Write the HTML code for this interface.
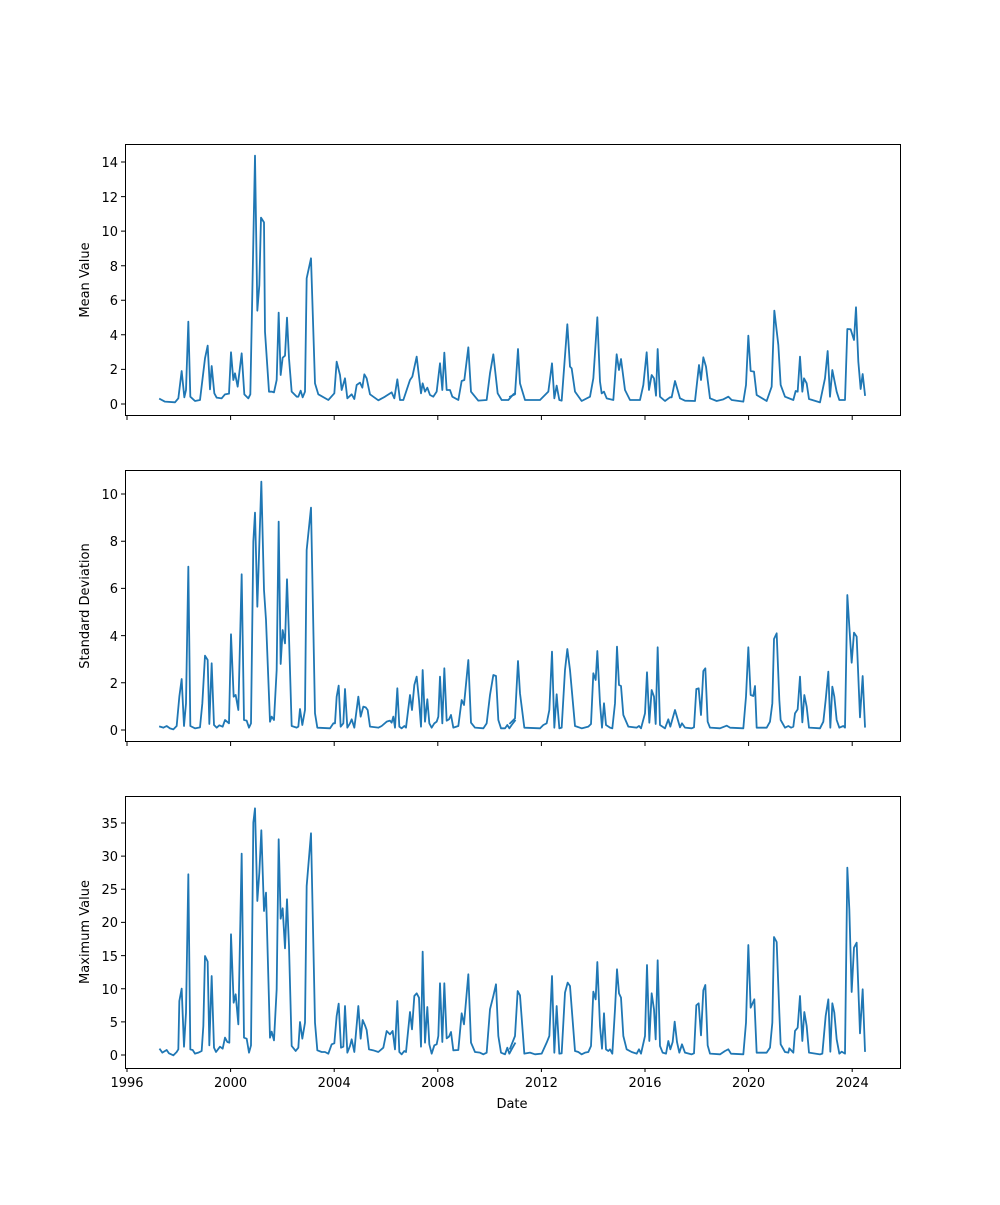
<!DOCTYPE html>
<html><head><meta charset="utf-8"><style>
body{margin:0;background:#fff;}
svg text{font-family:"DejaVu Sans","Liberation Sans",sans-serif;font-size:13px;fill:#000;}
</style></head><body>
<svg width="1000" height="1200" xmlns="http://www.w3.org/2000/svg">
<rect width="1000" height="1200" fill="#fff"/>
<g fill="none" stroke="#1f77b4" stroke-width="5.4" stroke-linejoin="round" stroke-linecap="square">
<g transform="translate(125,145) scale(0.33333)">
<polyline points="105,762 120,770 150,772 160,760 170,678 178,757 183,735 190,530 196,755 210,768 225,765 240,640 248,602 255,733 260,663 268,745 275,758 290,760 300,748 312,746 318,622 325,705 330,685 338,725 350,625 358,748 370,760 376,748 390,32 397,497 403,420 408,218 417,232 420,560 432,740 440,740 447,742 455,705 461,503 467,690 473,638 480,632 486,518 492,640 500,740 515,755 520,755 527,737 533,757 540,740 545,400 558,340 570,715 580,748 610,765 628,745 635,650 645,690 650,735 660,700 667,760 680,748 688,762 695,720 705,713 712,728 718,688 725,700 735,748 760,766 780,755 800,742 808,760 817,703 825,765 835,765 855,705 862,695 875,635 888,745 893,715 900,740 907,728 915,750 925,755 935,740 945,655 952,735 958,623 965,735 975,735 982,755 1000,765 1010,708 1018,705 1030,607 1038,740 1060,767 1085,765 1095,685 1105,628 1118,745 1130,765 1150,765 1165,748 1170,745"/>
</g>
<g transform="translate(510,145) scale(0.33333)">
<polyline points="0,755 15,748 24,612 30,715 45,765 90,765 115,740 126,655 133,760 140,722 148,765 155,767 172,538 180,665 185,670 195,740 215,768 240,755 250,700 262,517 270,710 275,745 282,740 290,760 310,765 320,628 327,675 333,642 345,735 360,765 390,765 400,720 410,622 417,735 425,690 432,700 438,752 443,612 450,755 465,768 480,757 485,757 495,708 510,760 525,767 555,768 567,660 573,705 580,637 588,665 600,760 620,768 640,763 655,755 665,765 700,770 708,720 715,572 722,678 732,680 740,750 770,768 785,725 793,497 805,600 812,720 825,755 850,765 857,738 863,740 870,635 877,740 882,700 890,715 897,762 930,772 945,700 953,618 960,755 967,675 980,740 988,765 1005,765 1012,552 1022,553 1032,585 1038,487 1045,650 1052,732 1058,687 1065,750"/>
</g>
<g transform="translate(125,470) scale(0.33333)">
<polyline points="105,770 115,773 125,768 135,775 145,778 155,768 163,680 170,627 177,768 183,700 190,290 196,768 210,775 225,772 232,700 240,557 248,570 253,762 260,580 267,765 275,773 283,766 293,770 300,750 312,760 318,493 326,680 332,675 340,720 350,313 357,750 365,752 372,773 378,760 385,215 390,128 397,410 409,35 417,360 423,450 435,755 440,740 447,750 455,600 461,155 467,582 473,480 480,520 486,328 492,500 500,768 515,773 520,770 525,717 532,765 540,720 545,240 558,113 570,730 577,773 615,775 625,760 630,760 635,680 641,647 647,770 655,760 660,657 667,773 675,760 680,748 688,773 700,680 707,740 715,710 722,712 728,720 735,770 760,773 770,768 785,755 795,752 800,758 805,740 810,773 817,655 823,770 830,775 838,768 843,773 855,675 861,720 868,645 875,620 882,690 888,770 893,600 900,755 907,688 913,760 920,773 928,760 935,755 940,740 945,620 952,760 958,595 965,752 972,748 978,735 985,773 1000,768 1010,690 1017,705 1030,570 1038,758 1050,773 1075,775 1085,760 1095,675 1105,615 1113,618 1120,750 1128,775 1140,775 1147,765 1153,775 1160,765 1170,752"/>
</g>
<g transform="translate(510,470) scale(0.33333)">
<polyline points="0,760 15,745 24,573 30,670 43,773 90,775 100,765 110,760 118,720 126,545 133,773 140,673 148,775 155,773 165,600 172,537 180,600 195,768 215,775 235,770 243,762 250,610 257,630 262,543 270,700 276,773 282,700 288,765 300,773 307,775 315,700 321,530 327,645 333,648 340,735 355,770 380,773 387,768 393,775 405,730 411,607 418,758 425,660 432,680 437,762 443,532 450,765 465,775 475,748 481,770 495,720 510,772 516,760 525,773 545,775 552,772 559,657 566,655 573,735 580,603 586,595 593,755 600,773 630,775 650,767 660,773 700,775 708,680 715,532 722,675 730,678 735,648 740,773 770,773 780,755 787,700 792,507 800,490 808,690 812,750 825,773 835,768 843,773 850,770 855,730 863,718 870,620 877,757 883,675 890,710 897,773 930,775 940,755 947,690 955,605 961,773 967,650 973,680 980,750 988,773 1000,768 1005,773 1012,375 1018,470 1025,578 1032,488 1040,500 1050,742 1058,618 1065,770"/>
</g>
<g transform="translate(125,796) scale(0.33333)">
<polyline points="105,760 112,770 120,765 125,762 132,772 145,778 155,768 160,760 163,615 170,578 177,752 183,650 190,235 196,760 203,762 210,773 220,770 230,765 235,690 240,480 248,497 253,748 260,540 267,755 273,768 285,752 293,758 300,725 307,738 313,740 318,415 326,620 332,595 340,685 350,173 357,725 365,728 372,770 378,748 385,80 390,37 397,315 403,230 409,103 417,345 423,290 435,725 440,707 447,733 455,580 461,130 467,368 473,337 480,457 486,310 492,450 500,750 512,765 520,755 525,678 532,728 540,680 545,270 558,112 570,680 577,763 590,768 600,768 610,773 620,745 628,742 635,660 641,623 648,755 655,752 660,630 667,770 675,750 680,730 688,768 700,630 707,728 713,672 720,688 725,702 732,760 745,763 760,768 775,755 785,705 795,715 803,705 810,760 817,615 823,768 830,775 838,765 843,768 855,648 861,700 868,600 875,592 882,605 888,752 893,467 900,740 907,633 913,745 920,773 928,748 935,745 940,720 945,562 952,738 958,562 965,727 972,722 978,708 985,763 1000,762 1010,652 1017,685 1030,535 1038,740 1050,768 1065,770 1075,775 1085,770 1095,640 1105,600 1113,565 1120,720 1128,770 1140,775 1147,755 1153,773 1160,760 1170,742"/>
</g>
<g transform="translate(510,796) scale(0.33333)">
<polyline points="0,758 15,720 23,585 30,598 43,773 60,770 75,775 95,773 110,740 118,720 126,540 133,770 140,630 148,773 155,772 165,590 173,560 180,570 195,765 205,768 215,775 225,770 235,768 243,750 250,587 257,610 262,498 270,690 276,758 282,652 288,760 295,765 300,760 307,773 315,640 321,520 327,592 333,605 340,720 350,760 365,768 380,773 387,760 393,773 405,720 411,507 418,735 425,592 432,640 437,730 443,493 450,750 458,770 468,773 475,735 481,760 488,738 494,677 501,738 508,770 516,745 525,770 545,775 552,772 559,628 566,622 573,718 580,583 586,567 593,748 600,773 630,775 645,765 655,760 663,773 700,775 708,680 715,447 722,635 733,610 740,770 770,770 780,755 787,680 792,423 800,438 808,650 812,745 825,768 835,770 838,757 850,770 855,705 863,695 870,600 877,735 883,648 890,690 897,770 930,775 937,773 947,660 955,610 961,767 967,622 973,650 980,730 988,773 995,767 1005,773 1012,215 1018,340 1025,588 1032,455 1040,440 1050,712 1058,580 1065,765"/>
</g>
</g>
<g fill="none" stroke="#000" stroke-width="1">
<rect x="125.5" y="144.5" width="775" height="271"/>
<rect x="125.5" y="470.5" width="775" height="271"/>
<rect x="125.5" y="796.5" width="775" height="272"/>
</g>
<g stroke="#000" stroke-width="1">
<path d="M127,416v4M230.6,416v4M334.2,416v4M437.8,416v4M541.4,416v4M645,416v4M748.6,416v4M852.2,416v4"/>
<path d="M127,742v4M230.6,742v4M334.2,742v4M437.8,742v4M541.4,742v4M645,742v4M748.6,742v4M852.2,742v4"/>
<path d="M127,1068v4M230.6,1068v4M334.2,1068v4M437.8,1068v4M541.4,1068v4M645,1068v4M748.6,1068v4M852.2,1068v4"/>
<path d="M125,404h-4M125,369.4h-4M125,334.8h-4M125,300.3h-4M125,265.7h-4M125,231.1h-4M125,196.6h-4M125,162h-4"/>
<path d="M125,730h-4M125,682.8h-4M125,635.6h-4M125,588.4h-4M125,541.2h-4M125,494h-4"/>
<path d="M125,1055h-4M125,1021.9h-4M125,988.7h-4M125,955.6h-4M125,922.4h-4M125,889.3h-4M125,856.1h-4M125,823h-4"/>
</g>
<g text-anchor="end">
<text x="118" y="409">0</text><text x="118" y="374">2</text><text x="118" y="340">4</text><text x="118" y="305">6</text><text x="118" y="271">8</text><text x="118" y="236">10</text><text x="118" y="202">12</text><text x="118" y="167">14</text>
<text x="118" y="735">0</text><text x="118" y="688">2</text><text x="118" y="641">4</text><text x="118" y="593">6</text><text x="118" y="546">8</text><text x="118" y="499">10</text>
<text x="118" y="1060">0</text><text x="118" y="1027">5</text><text x="118" y="994">10</text><text x="118" y="961">15</text><text x="118" y="927">20</text><text x="118" y="894">25</text><text x="118" y="861">30</text><text x="118" y="828">35</text>
</g>
<g text-anchor="middle">
<text x="127" y="1087">1996</text><text x="230.6" y="1087">2000</text><text x="334.2" y="1087">2004</text><text x="437.8" y="1087">2008</text><text x="541.4" y="1087">2012</text><text x="645" y="1087">2016</text><text x="748.6" y="1087">2020</text><text x="852.2" y="1087">2024</text>
<text x="512" y="1108">Date</text>
<text transform="translate(89,280) rotate(-90)">Mean Value</text>
<text transform="translate(89,606) rotate(-90)">Standard Deviation</text>
<text transform="translate(89,932) rotate(-90)">Maximum Value</text>
</g>
</svg>
</body></html>
